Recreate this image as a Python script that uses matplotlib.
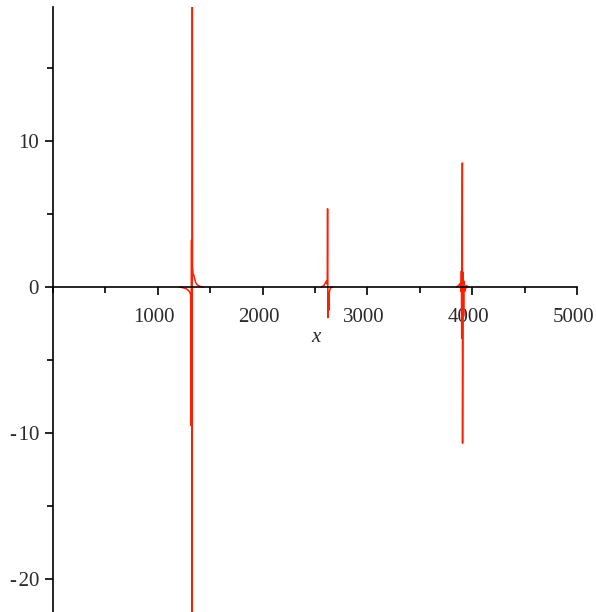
import numpy as np
import matplotlib
matplotlib.use("Agg")
import matplotlib.pyplot as plt
import matplotlib.transforms as mtransforms
from matplotlib.ticker import MultipleLocator, FixedLocator

# Pontos de cada pico da curva (em torno dos polos)
x_pico1 = [1210, 1240, 1270, 1295, 1308, 1316, 1319, 1322, 1325, 1327, 1329, 1331,
           1336, 1344, 1352, 1362, 1375, 1392, 1410, 1430]
y_pico1 = [0.0, -0.05, -0.12, -0.25, -0.4, -0.6, -9.5, 3.2, -9.4, -30.0, 30.0, 1.4,
           0.9, 0.8, 0.55, 0.3, 0.15, 0.08, 0.03, 0.0]

x_pico2 = [2560, 2585, 2600, 2610, 2617, 2620, 2623, 2627, 2631, 2635, 2640, 2650, 2665]
y_pico2 = [0.0, 0.1, 0.3, 0.4, 0.2, 5.36, -2.1, -0.4, -1.6, -0.5, -0.2, -0.05, 0.0]

x_pico3 = [3850, 3870, 3885, 3893, 3897, 3900, 3903, 3906, 3908, 3911, 3914, 3918,
           3922, 3930, 3945, 3960]
y_pico3 = [0.0, 0.1, 0.25, -0.3, 1.1, -3.5, 0.9, 8.5, -10.7, -3.0, 1.0, -2.0,
           0.4, -0.3, 0.1, 0.0]

xticks_maiores = [1000, 2000, 3000, 4000, 5000]
yticks_maiores = [-20, -10, 0, 10]

vermelho = "#ff1e00"
cor_texto = "#2a2a2a"
fonte = "Liberation Serif"

fig = plt.figure(figsize=(5.96, 6.12), dpi=100)
ax = fig.add_axes([53 / 596, 0.0, (577 - 53) / 596, (612 - 7) / 612])

for xs, ys in [(x_pico1, y_pico1), (x_pico2, y_pico2), (x_pico3, y_pico3)]:
    ax.plot(xs, ys, color=vermelho, lw=1.1, zorder=2)

ax.set_xlim(0, 5000)
ax.set_ylim(-22.26, 19.18)

# Eixos cruzando na origem
ax.spines["left"].set_position(("data", 0))
ax.spines["bottom"].set_position(("data", 0))
ax.spines["top"].set_visible(False)
ax.spines["right"].set_visible(False)
for s in ["left", "bottom"]:
    ax.spines[s].set_linewidth(1.2)
    ax.spines[s].set_zorder(3)

ax.xaxis.set_major_locator(FixedLocator(xticks_maiores))
ax.xaxis.set_minor_locator(MultipleLocator(500))
ax.yaxis.set_major_locator(FixedLocator(yticks_maiores))
ax.yaxis.set_minor_locator(MultipleLocator(5))

ax.tick_params(axis="both", which="major", length=6, width=1.2, color="black")
ax.tick_params(axis="both", which="minor", length=4, width=1.2, color="black")
ax.tick_params(axis="x", which="major", pad=9)
ax.tick_params(axis="y", which="major", pad=4)

ax.set_xticklabels([str(v) for v in xticks_maiores], fontfamily=fonte,
                   fontsize=15, color=cor_texto)
# sinal de menos separado do numero por um espaco bem fino
ax.set_yticklabels([str(v) if v >= 0 else "-\u200a" + str(-v) for v in yticks_maiores],
                   fontfamily=fonte, fontsize=15, color=cor_texto)

# rotulos do eixo x um pouco deslocados para a esquerda
desloc = mtransforms.ScaledTranslation(-4 / 100, 0, fig.dpi_scale_trans)
for lbl in ax.get_xticklabels():
    lbl.set_transform(lbl.get_transform() + desloc)

ax.text(2505, -3.45, "x", fontfamily=fonte, fontstyle="italic", fontsize=15,
        color=cor_texto, ha="center", va="center")

ax.patch.set_visible(False)
fig.savefig("out.png", dpi=100, facecolor="white")
